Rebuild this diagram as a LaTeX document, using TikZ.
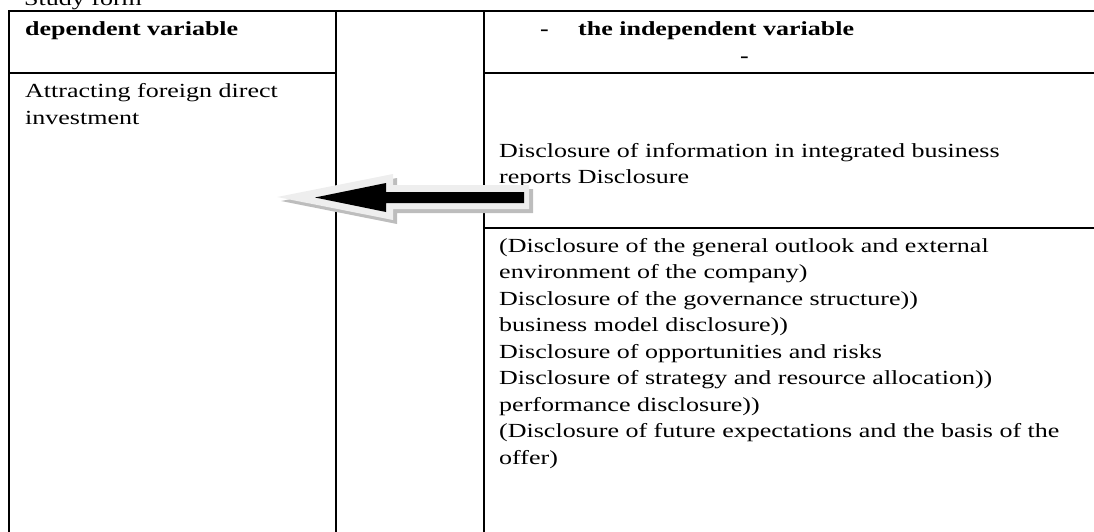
\documentclass[tikz,border=0pt]{standalone}
\usepackage{fontspec}
\setmainfont{Liberation Serif}[FakeStretch=1.3]
\usetikzlibrary{positioning}
\definecolor{arrowrim}{HTML}{EEEEEE}
\definecolor{arrowshade}{HTML}{BDBDBD}
\newcommand\cellfont{\fontsize{20}{26.5}\selectfont\lineskiplimit=-20pt\relax}

\begin{document}
\begin{tikzpicture}[x=1pt,y=-1pt,
  rule/.style={line width=1.6pt},
  cell/.style={anchor=base west,inner sep=0pt,align=left,font=\cellfont},
  head/.style={cell,font=\cellfont\bfseries}]
\useasboundingbox (0,0) rectangle (1094,532);
\node[cell] (title) at (24,6) {Study form};
\draw[rule] (9,532) -- (9,11) -- (1094,11);
\draw[rule] (336,11) -- (336,532);
\draw[rule] (484,11) -- (484,532);
\draw[rule] (9,73) -- (336,73);
\draw[rule] (484,73) -- (1094,73);
\draw[rule] (484,228) -- (1094,228);
\node[head] (dep) at (25,36) {dependent variable};
\node[head] (dash1) at (540,36) {-};
\node[head] (indep) at (578,36) {the independent variable};
\node[head] (dash2) at (740,63) {-};
\node[cell] (fdi) at (25,124.5) {Attracting foreign direct\\investment};
\node[cell] (ibr) at (499,183.5) {Disclosure of information in integrated business\\reports Disclosure};
\node[cell] (items) at (499,464) {(Disclosure of the general outlook and external\\
environment of the company)\\
Disclosure of the governance structure))\\
business model disclosure))\\
Disclosure of opportunities and risks\\
Disclosure of strategy and resource allocation))\\
performance disclosure))\\
(Disclosure of future expectations and the basis of the\\
offer)};
\fill[arrowshade] (281,201) -- (397,178) -- (397,189) -- (533,189) -- (533,213) -- (397,213) -- (397,224) -- cycle;
\fill[arrowrim] (277,197) -- (393,174) -- (393,185) -- (529,185) -- (529,209) -- (393,209) -- (393,220) -- cycle;
\fill[black] (315,197.5) -- (386,183) -- (386,192) -- (524,192) -- (524,203) -- (386,203) -- (386,212) -- cycle;
\end{tikzpicture}
\end{document}
